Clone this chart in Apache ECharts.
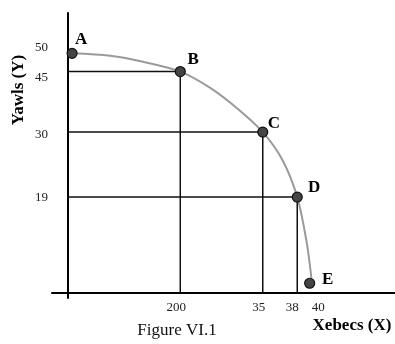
<!DOCTYPE html>
<html>
<head>
<meta charset="utf-8">
<script src="https://cdn.jsdelivr.net/npm/echarts@6/dist/echarts.min.js"></script>
<style>
html,body{margin:0;padding:0;background:#fff;}
#chart{width:395px;height:344px;}
</style>
</head>
<body>
<div id="chart"></div>
<script>
// Points on the frontier (schematic plotting positions as drawn)
const pointNames = ['A', 'B', 'C', 'D', 'E'];
const pointX = [0.85, 20, 34.6, 40.7, 42.9];
const pointY = [48.6, 44.9, 32.6, 19.4, 1.9];
// Frontier curve
const curveX = [0.85, 7.6, 13.4, 20, 25.3, 30.0, 34.6, 38.1, 40.7, 42.4, 43.2];
const curveY = [48.6, 48.1, 46.9, 44.9, 41.6, 37.5, 32.6, 26.9, 19.4, 10.0, 3.0];
// Points that get guide lines to the axes
const guidePoints = ['B', 'C', 'D'];
// Tick labels as printed
const xTickValues = [19.3, 33.9, 39.8, 44.4];
const xTickLabels = ['200', '35', '38', '40'];
const yTickValues = [49.7, 43.7, 32.2, 19.2];
const yTickLabels = ['50', '45', '30', '19'];
// Texts
const xTitle = 'Xebecs (X)';
const yTitle = 'Yawls (Y)';
const caption = 'Figure VI.1';

// Styles
const SERIF = '"Liberation Serif", "DejaVu Serif", serif';
const labelOffsets = {A: [9, -14], B: [13, -12], C: [11, -9], D: [17, -9], E: [18, -4]};

const chart = echarts.init(document.getElementById('chart'), null, {renderer: 'canvas'});

const guideSeries = guidePoints.map(n => {
  const i = pointNames.indexOf(n);
  return {
    type: 'line',
    data: [[0, pointY[i]], [pointX[i], pointY[i]], [pointX[i], 0]],
    symbol: 'none',
    silent: true,
    lineStyle: {color: '#111', width: 1.5},
    z: 2
  };
});

function tickFmt(vals, labels) {
  return function (v) {
    let best = 0, d = Infinity;
    vals.forEach((t, i) => { if (Math.abs(t - v) < d) { d = Math.abs(t - v); best = i; } });
    return labels[best];
  };
}

const option = {
  animation: false,
  backgroundColor: '#fff',
  grid: {left: 52, right: 0, top: 13, bottom: 46},
  xAxis: {
    type: 'value', min: -2.7, max: 58,
    axisLine: {onZero: true, lineStyle: {color: '#000', width: 2}},
    axisTick: {show: false},
    splitLine: {show: false},
    axisLabel: {
      customValues: xTickValues,
      formatter: tickFmt(xTickValues, xTickLabels),
      margin: 3, fontFamily: SERIF, fontSize: 13, color: '#222'
    }
  },
  yAxis: {
    type: 'value', min: -1.1, max: 56.8,
    axisLine: {onZero: true, lineStyle: {color: '#000', width: 2}},
    axisTick: {show: false},
    splitLine: {show: false},
    axisLabel: {
      customValues: yTickValues,
      formatter: tickFmt(yTickValues, yTickLabels),
      margin: 4, fontFamily: SERIF, fontSize: 13, color: '#222'
    }
  },
  series: [
    ...guideSeries,
    {
      type: 'line',
      data: curveX.map((x, i) => [x, curveY[i]]),
      smooth: 0.3,
      symbol: 'none',
      silent: true,
      lineStyle: {color: '#9a9a9a', width: 2},
      z: 3
    },
    {
      type: 'scatter',
      data: pointNames.map((n, i) => ({
        name: n, value: [pointX[i], pointY[i]],
        label: {offset: labelOffsets[n]}
      })),
      symbolSize: 10,
      itemStyle: {color: '#444', borderColor: '#111', borderWidth: 1.2, opacity: 1},
      label: {
        show: true,
        position: 'inside',
        formatter: p => p.name,
        fontFamily: SERIF, fontWeight: 'bold', fontSize: 17, color: '#000'
      },
      z: 5
    }
  ],
  graphic: [
    {
      type: 'text', x: 18.5, y: 90, rotation: Math.PI / 2,
      style: {text: yTitle, fontFamily: SERIF, fontWeight: 'bold', fontSize: 17, fill: '#000', align: 'center', verticalAlign: 'middle'}
    },
    {
      type: 'text', x: 352, y: 326,
      style: {text: xTitle, fontFamily: SERIF, fontWeight: 'bold', fontSize: 17, fill: '#000', align: 'center', verticalAlign: 'middle'}
    },
    {
      type: 'text', x: 177, y: 331,
      style: {text: caption, fontFamily: SERIF, fontSize: 17, fill: '#111', align: 'center', verticalAlign: 'middle'}
    }
  ]
};

chart.setOption(option);
</script>
</body>
</html>
